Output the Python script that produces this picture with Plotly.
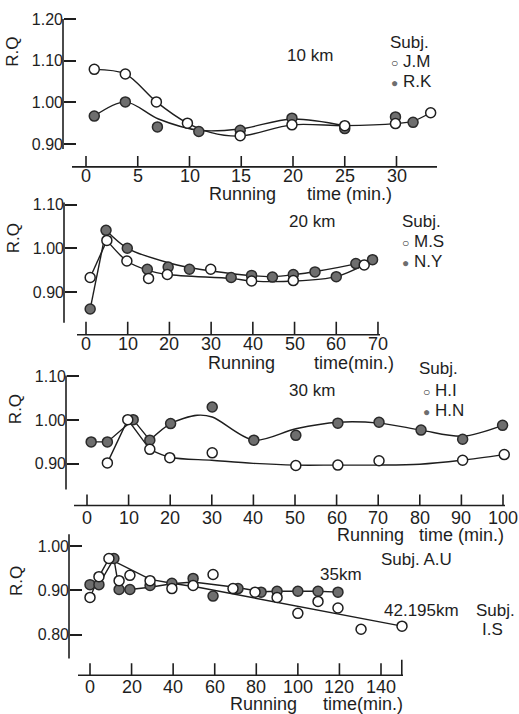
import plotly.graph_objects as go

# ---------------- data ----------------
# 10 km run
t10_jm = [0.8, 3.8, 6.8, 9.8, 14.9, 19.9, 25, 29.9, 33.3]
rq10_jm = [1.079, 1.068, 1.001, 0.950, 0.920, 0.946, 0.944, 0.949, 0.975]
t10_rk = [0.8, 3.8, 6.9, 10.9, 14.9, 19.9, 25, 29.9, 31.6]
rq10_rk = [0.967, 1.001, 0.941, 0.930, 0.933, 0.962, 0.937, 0.965, 0.952]
# fitted curves (10 km)
fit10_jm_t = [0.8, 3.8, 6.8, 9.8, 12, 14.9, 19.9, 25, 29.9, 31.6, 33.3]
fit10_jm_rq = [1.079, 1.068, 1.001, 0.950, 0.928, 0.919, 0.946, 0.944, 0.949, 0.955, 0.975]
fit10_rk_t = [0.8, 3.8, 7, 10.9, 14.9, 19.9, 25]
fit10_rk_rq = [0.967, 1.001, 0.960, 0.933, 0.936, 0.960, 0.944]

# 20 km run
t20_ms = [1, 5, 9.8, 15, 19.5, 29.9, 39.7, 49.7, 66.7]
rq20_ms = [0.933, 1.018, 0.971, 0.931, 0.940, 0.952, 0.925, 0.926, 0.962]
t20_ny = [1, 4.8, 9.9, 14.7, 19.7, 24.8, 34.8, 39.7, 44.7, 49.7, 54.9, 60, 64.7, 68.7]
rq20_ny = [0.861, 1.041, 1.000, 0.952, 0.957, 0.952, 0.933, 0.938, 0.934, 0.940, 0.946, 0.935, 0.965, 0.974]
fit20_ms_head_t = [1, 5]
fit20_ms_head_rq = [0.933, 1.018]
fit20_ms_t = [5, 9.8, 14.7, 19.5, 34.8, 40, 50, 60, 66.7]
fit20_ms_rq = [1.018, 0.971, 0.950, 0.940, 0.931, 0.925, 0.925, 0.935, 0.962]
fit20_ny_head_t = [1, 4.8]
fit20_ny_head_rq = [0.861, 1.041]
fit20_ny_t = [4.8, 9.9, 19.7, 24.8, 30, 40, 45, 50, 55, 65, 68.7]
fit20_ny_rq = [1.041, 1.000, 0.967, 0.956, 0.948, 0.937, 0.935, 0.940, 0.947, 0.965, 0.974]

# 30 km run
t30_hi = [4.9, 9.8, 15.1, 19.9, 30.1, 50.2, 60.3, 70.2, 90.3, 100.3]
rq30_hi = [0.902, 1.001, 0.933, 0.914, 0.925, 0.896, 0.897, 0.907, 0.908, 0.921]
t30_hn = [1.0, 4.9, 11.1, 15.1, 20.1, 30.1, 40.1, 50.2, 60.3, 70.2, 80.3, 90.3, 99.9]
rq30_hn = [0.950, 0.950, 1.001, 0.954, 0.992, 1.030, 0.954, 0.965, 0.993, 0.995, 0.977, 0.956, 0.988]
fit30_hi_head_t = [4.9, 9.8, 15.1]
fit30_hi_head_rq = [0.902, 1.001, 0.933]
fit30_hi_t = [15.1, 19.9, 30, 40, 50, 60, 70, 80, 90, 100.3]
fit30_hi_rq = [0.933, 0.915, 0.908, 0.901, 0.897, 0.897, 0.897, 0.899, 0.908, 0.921]
fit30_hn_head_t = [1.0, 4.9, 11.1, 15.1]
fit30_hn_head_rq = [0.950, 0.950, 1.001, 0.954]
fit30_hn_t = [15.1, 20.1, 26.5, 30.1, 40.1, 50.2, 60.3, 70.2, 80.3, 90.3, 99.9]
fit30_hn_rq = [0.954, 0.992, 1.011, 1.007, 0.954, 0.980, 0.995, 0.993, 0.977, 0.963, 0.988]

# 35 km (A.U) and 42.195 km (I.S) runs
t35_au = [0, 4.3, 11.5, 14, 19.2, 28.9, 39.4, 49.6, 59.2, 71.2, 82.3, 90, 100, 109.7, 119.3]
rq35_au = [0.913, 0.913, 0.972, 0.902, 0.902, 0.911, 0.916, 0.927, 0.887, 0.904, 0.896, 0.898, 0.898, 0.898, 0.896]
t42_is = [0, 4.3, 9.1, 14, 19.2, 28.9, 39.4, 49.6, 59.2, 68.8, 79.4, 90, 100, 109.7, 119.3, 130.4, 150.1]
rq42_is = [0.884, 0.931, 0.972, 0.922, 0.934, 0.922, 0.904, 0.911, 0.936, 0.904, 0.896, 0.884, 0.848, 0.875, 0.860, 0.812, 0.819]
fit35_au_t = [0, 4.3, 11.5, 14, 19.2, 28.9, 39.4, 49.6, 70, 82.3, 90, 100, 109.7, 119.3]
fit35_au_rq = [0.913, 0.913, 0.972, 0.902, 0.902, 0.907, 0.915, 0.919, 0.907, 0.897, 0.898, 0.898, 0.898, 0.896]
fit42_is_t = [0, 4.3, 9.1, 29, 39.4, 52, 150.1]
fit42_is_rq = [0.884, 0.931, 0.972, 0.925, 0.916, 0.907, 0.819]

# tick values
ticks10 = [0, 5, 10, 15, 20, 25, 30]
ticks20 = [0, 10, 20, 30, 40, 50, 60, 70]
ticks30 = [0, 10, 20, 30, 40, 50, 60, 70, 80, 90, 100]
ticks42 = [0, 20, 40, 60, 80, 100, 120, 140, 150]
ticks42_text = ["0", "20", "40", "60", "80", "100", "120", "140", ""]
rq_ticks_a = [0.90, 1.00, 1.10, 1.20]
rq_ticks_b = [0.90, 1.00, 1.10]
rq_ticks_c = [0.80, 0.90, 1.00]

# ---------------- styling / layout helpers ----------------
W, H = 519, 714
INK = "#1e1e1e"
FILL = "#6e6e6e"
FONT = "Liberation Sans"
LW = 1.6
PAD = 3  # spare pixels around each panel's drawing area


def px(x):
    return x / W


def py(y):
    return 1 - y / H


# pixel geometry of each panel's hand-drawn axes
panels = [
    dict(xl=72, xr=437, x0=86, xs=10.35, xline=163, xlab=172, xt=ticks10, xtt=None,
         yl=63, ytop=14, ybot=145, vhi=1.20, phi=14, vlo=0.90, plo=140, yt=rq_ticks_a, xtl=11),
    dict(xl=77, xr=380, x0=86, xs=4.171, xline=332, xlab=341, xt=ticks20, xtt=None,
         yl=64, ytop=199, ybot=320, vhi=1.10, phi=201, vlo=0.90, plo=289, yt=rq_ticks_b, xtl=13),
    dict(xl=74, xr=505, x0=87, xs=4.16, xline=504, xlab=517, xt=ticks30, xtt=None,
         yl=66, ytop=373, ybot=488, vhi=1.10, phi=374, vlo=0.90, plo=462, yt=rq_ticks_b, xtl=11),
    dict(xl=78, xr=403, x0=90, xs=2.0786, xline=675, xlab=687, xt=ticks42, xtt=ticks42_text,
         yl=69, ytop=533, ybot=658, vhi=1.00, phi=545, vlo=0.80, plo=634, yt=rq_ticks_c, xtl=12),
]

fig = go.Figure()
layout_axes = {}
annotations = []


def ax_name(kind, n):
    return kind + ("" if n == 1 else str(n))


def axis_stroke(i, xs, ys):
    fig.add_trace(go.Scatter(
        x=xs, y=ys, mode="lines", xaxis=ax_name("x", i), yaxis=ax_name("y", i),
        line=dict(color=INK, width=LW), hoverinfo="skip", connectgaps=False,
    ))


for i, p in enumerate(panels, start=1):
    s = (p["plo"] - p["phi"]) / (p["vhi"] - p["vlo"])

    def val(pix, p=p, s=s):
        return p["vlo"] - (pix - p["plo"]) / s

    def tval(pix, p=p):
        return (pix - p["x0"]) / p["xs"]

    xa, ya = ax_name("x", i), ax_name("y", i)
    texts = p["xtt"] if p["xtt"] else [str(v) for v in p["xt"]]

    # bare time scale covering the whole panel, R.Q axis line included
    layout_axes[ax_name("xaxis", i)] = dict(
        domain=[px(p["yl"] - PAD), px(p["xr"] + PAD)],
        range=[tval(p["yl"] - PAD), tval(p["xr"] + PAD)], anchor=ya,
        showline=False, ticks="", showticklabels=False,
        showgrid=False, zeroline=False, fixedrange=True,
    )
    # R.Q scale: tick marks and labels come from the axis itself
    layout_axes[ax_name("yaxis", i)] = dict(
        domain=[py(p["xline"] + PAD), py(p["ytop"] - PAD)],
        range=[val(p["xline"] + PAD), val(p["ytop"] - PAD)],
        anchor="free", position=px(p["yl"]),
        showline=False, ticks="inside", ticklen=12,
        tickwidth=LW, tickcolor=INK, tickvals=p["yt"], ticktext=[f"{v:.2f}" for v in p["yt"]],
        tickfont=dict(family=FONT, size=16, color=INK), showgrid=False, zeroline=False,
        fixedrange=True,
    )

    # R.Q axis line, stopping short of the time axis
    axis_stroke(i, [tval(p["yl"]), tval(p["yl"])], [val(p["ybot"]), val(p["ytop"])])
    # time baseline
    axis_stroke(i, [tval(p["xl"]), tval(p["xr"])], [val(p["xline"]), val(p["xline"])])
    # upward time ticks
    tx_pts, ty_pts = [], []
    for tv, tx in zip(p["xt"], texts):
        tick_h = p["xtl"] if tx else p["xtl"] * 1.3
        tx_pts += [tv, tv, None]
        ty_pts += [val(p["xline"]), val(p["xline"] - tick_h), None]
    axis_stroke(i, tx_pts, ty_pts)

    for tv, tx in zip(p["xt"], texts):
        if tx:
            annotations.append(dict(text=tx, x=tv, xref=xa, y=py(p["xlab"]), yref="paper",
                                    xanchor="center", yanchor="middle", showarrow=False,
                                    font=dict(family=FONT, size=18, color=INK)))


def curve(i, t, rq, shape="spline"):
    fig.add_trace(go.Scatter(
        x=t, y=rq, mode="lines", xaxis=ax_name("x", i), yaxis=ax_name("y", i),
        line=dict(color=INK, width=1.4, shape=shape, smoothing=0.9),
        hoverinfo="skip", cliponaxis=False,
    ))


def points(i, t, rq, filled, name):
    fig.add_trace(go.Scatter(
        x=t, y=rq, mode="markers", xaxis=ax_name("x", i), yaxis=ax_name("y", i),
        name=name,
        marker=dict(size=10, symbol="circle",
                    color=FILL if filled else "white",
                    line=dict(color="#2a2a2a" if filled else INK, width=1.5)),
        cliponaxis=False,
    ))


# fitted lines drawn first so the markers sit on top
curve(1, fit10_jm_t, fit10_jm_rq)
curve(1, fit10_rk_t, fit10_rk_rq)
curve(2, fit20_ms_head_t, fit20_ms_head_rq, "linear")
curve(2, fit20_ms_t, fit20_ms_rq)
curve(2, fit20_ny_head_t, fit20_ny_head_rq, "linear")
curve(2, fit20_ny_t, fit20_ny_rq)
curve(3, fit30_hi_head_t, fit30_hi_head_rq, "linear")
curve(3, fit30_hi_t, fit30_hi_rq)
curve(3, fit30_hn_head_t, fit30_hn_head_rq, "linear")
curve(3, fit30_hn_t, fit30_hn_rq)
curve(4, fit35_au_t, fit35_au_rq, "linear")
curve(4, fit42_is_t, fit42_is_rq, "linear")

points(1, t10_rk, rq10_rk, True, "R.K")
points(1, t10_jm, rq10_jm, False, "J.M")
points(2, t20_ny, rq20_ny, True, "N.Y")
points(2, t20_ms, rq20_ms, False, "M.S")
points(3, t30_hn, rq30_hn, True, "H.N")
points(3, t30_hi, rq30_hi, False, "H.I")
points(4, t35_au, rq35_au, True, "A.U")
points(4, t42_is, rq42_is, False, "I.S")

OPEN = "<span style='font-size:12px'>○</span>"
DOT = f"<span style='font-size:12px;color:{FILL}'>●</span>"

# (text, x px, y px, xanchor, size, angle)
labels = [
    ("R.Q", 13, 47, "center", 17, -90),
    ("10 km", 310, 51, "center", 17, 0),
    ("Subj.", 388, 38, "left", 17, 0),
    (OPEN + " J.M", 389, 57, "left", 17, 0),
    (DOT + " R.K", 389, 77, "left", 17, 0),
    ("Running", 242, 190, "center", 18, 0),
    ("time (min.)", 349, 190, "center", 18, 0),

    ("R.Q", 13, 235, "center", 17, -90),
    ("20 km", 312, 218, "center", 17, 0),
    ("Subj.", 400, 218, "left", 17, 0),
    (OPEN + " M.S", 400, 238, "left", 17, 0),
    (DOT + " N.Y", 400, 258, "left", 17, 0),
    ("Running", 241, 361, "center", 18, 0),
    ("time(min.)", 354, 361, "center", 18, 0),

    ("R.Q", 15, 407, "center", 17, -90),
    ("30 km", 312, 388, "center", 17, 0),
    ("Subj.", 417, 366, "left", 17, 0),
    (OPEN + " H.I", 421, 388, "left", 17, 0),
    (DOT + " H.N", 421, 408, "left", 17, 0),
    ("Running", 370, 534, "center", 18, 0),
    ("time (min.)", 461, 534, "center", 18, 0),

    ("R.Q", 17, 580, "center", 17, -90),
    ("Subj. A.U", 379, 558, "left", 17, 0),
    ("35km", 341, 574, "center", 17, 0),
    ("42.195km", 382, 610, "left", 17, 0),
    ("Subj.", 474, 610, "left", 17, 0),
    ("I.S", 480, 629, "left", 17, 0),
    ("Running", 263, 704, "center", 18, 0),
    ("time(min.)", 363, 704, "center", 18, 0),
]

annotations += [
    dict(text=t, x=px(x), y=py(y), xref="paper", yref="paper", xanchor=xa, yanchor="middle",
         showarrow=False, textangle=ang, font=dict(family=FONT, size=sz, color=INK))
    for (t, x, y, xa, sz, ang) in labels
]

fig.update_layout(
    width=W, height=H, margin=dict(l=0, r=0, t=0, b=0),
    paper_bgcolor="white", plot_bgcolor="white",
    showlegend=False, annotations=annotations,
    font=dict(family=FONT, color=INK),
    **layout_axes,
)

fig.write_html("out.html")
